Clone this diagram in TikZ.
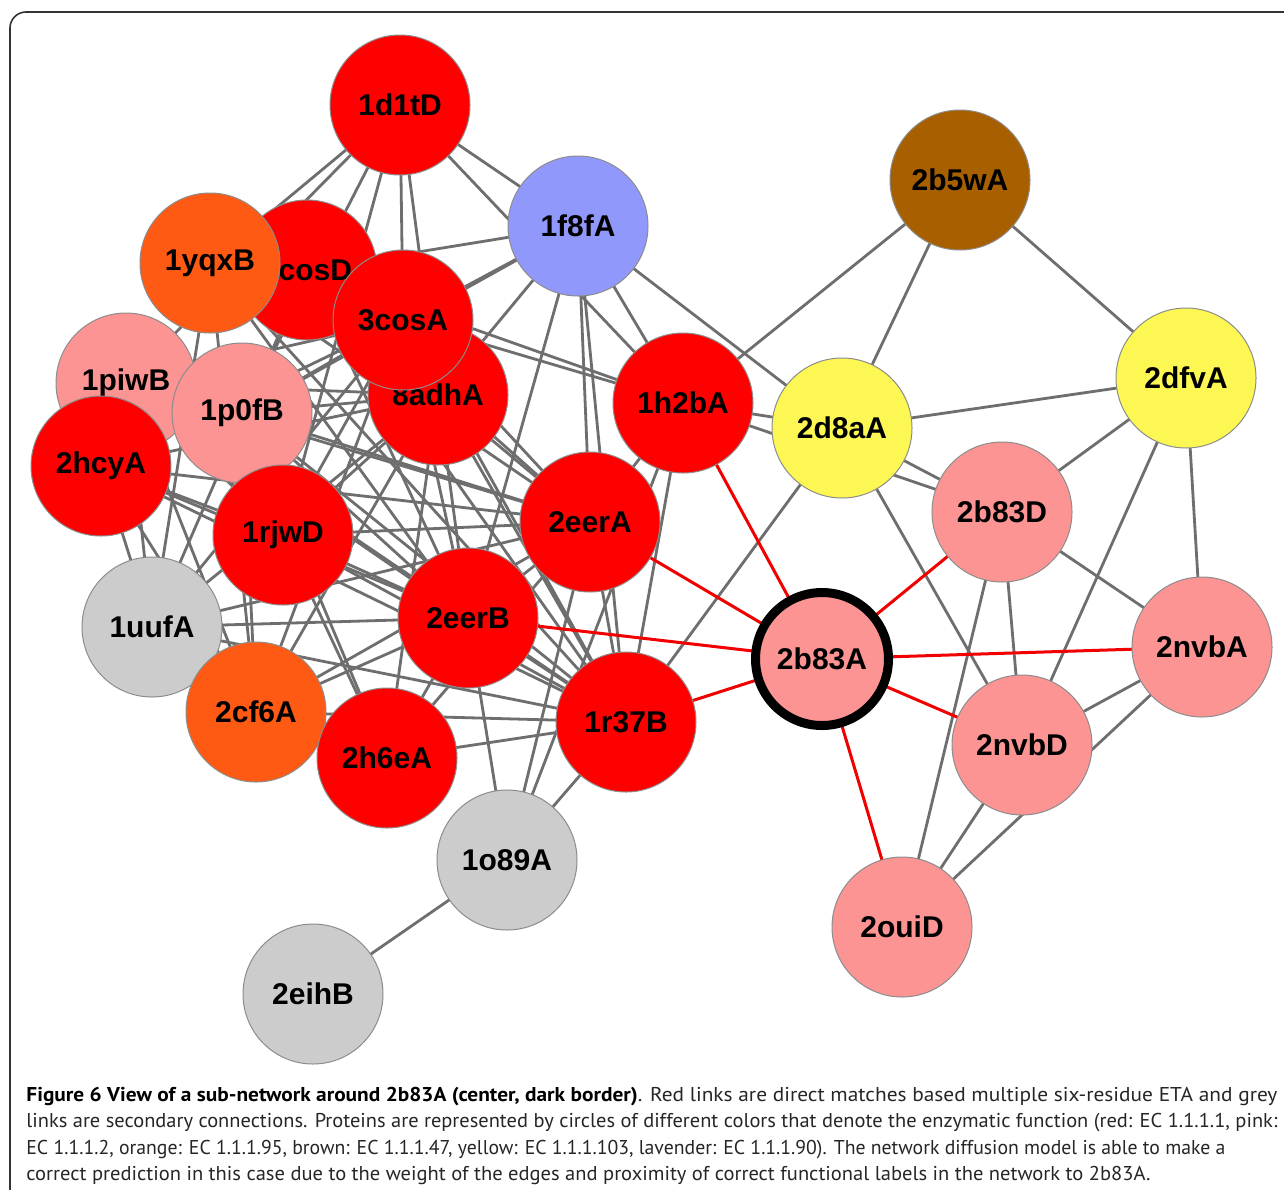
\documentclass[tikz,border=0pt]{standalone}
\usepackage{fontspec}
\usepackage{graphicx}
\newfontfamily\labfont{Liberation Sans}
\newfontfamily\capfont{PT Sans}
\definecolor{pRed}{HTML}{FF0000}
\definecolor{pPink}{HTML}{FC9494}
\definecolor{pOrange}{HTML}{FF5A14}
\definecolor{pBrown}{HTML}{A85F00}
\definecolor{pYellow}{HTML}{FCF752}
\definecolor{pLav}{HTML}{9098FC}
\definecolor{pGrey}{HTML}{CCCCCC}
\definecolor{edgeGrey}{HTML}{6E6E6E}
\definecolor{linkRed}{HTML}{F20000}
\pgfdeclarelayer{paper}
\pgfdeclarelayer{bg}
\pgfsetlayers{paper,bg,main}
\begin{document}
\begin{tikzpicture}[x=0.5pt,y=-0.5pt,
  prot/.style={circle, draw=black!45, line width=0.5pt, minimum size=70pt, inner sep=0pt,
    font=\labfont\bfseries\fontsize{15}{15}\selectfont, text=black},
  red/.style={prot, fill=pRed},
  pink/.style={prot, fill=pPink},
  orng/.style={prot, fill=pOrange},
  brwn/.style={prot, fill=pBrown},
  yell/.style={prot, fill=pYellow},
  lav/.style={prot, fill=pLav},
  gry/.style={prot, fill=pGrey},
  focus/.style={prot, fill=pPink, draw=black, line width=4.5pt, minimum size=66.5pt},
  ge/.style={draw=edgeGrey, line width=1.4pt},
  re/.style={draw=linkRed, line width=1.5pt},
  capline/.style={anchor=base west, inner sep=0pt, font=\capfont\fontsize{10}{12}\selectfont, text=black!85}]
\useasboundingbox (0,0) rectangle (1284,1189);
\clip (0,0) rectangle (1284,1189);
\begin{pgfonlayer}{paper}
\fill[white] (0,0) rectangle (1284,1189);
\end{pgfonlayer}
% frame
\draw[black!80, line width=0.8pt, rounded corners=8pt] (10,1300) -- (10,12) -- (1400,12);

% nodes (drawing order matters for overlaps)
\node[red]  (T)  at (400,105) {1d1tD};
\node[lav]  (L)  at (578,226) {1f8fA};
\node[brwn] (BW) at (960,180) {2b5wA};
\node[pink] (W)  at (126,383) {1piwB};
\node[pink] (P)  at (242,413) {1p0fB};
\node[red]  (D)  at (307,270) {3cosD};
\node[orng] (A)  at (210,263) {1yqxB};
\node[red]  (H)  at (438,395) {8adhA};
\node[red]  (C)  at (403,320) {3cosA};
\node[red]  (Y)  at (101,466) {2hcyA};
\node[red]  (J)  at (283,535) {1rjwD};
\node[gry]  (U)  at (152,627) {1uufA};
\node[orng] (F)  at (256,712) {2cf6A};
\node[red]  (E6) at (387,758) {2h6eA};
\node[red]  (EB) at (468,618) {2eerB};
\node[red]  (EA) at (590,522) {2eerA};
\node[red]  (R)  at (626,722) {1r37B};
\node[gry]  (O)  at (507,860) {1o89A};
\node[gry]  (EH) at (313,994) {2eihB};
\node[red]  (B)  at (683,403) {1h2bA};
\node[yell] (DA) at (842,428) {2d8aA};
\node[yell] (DF) at (1186,378) {2dfvA};
\node[pink] (BD) at (1002,512) {2b83D};
\node[pink] (NA) at (1202,647) {2nvbA};
\node[pink] (ND) at (1022,745) {2nvbD};
\node[pink] (OD) at (902,927) {2ouiD};
\node[focus] (X) at (822,659) {2b83A};

% edges
\begin{pgfonlayer}{bg}
\foreach \a/\b in {BW/B, BW/DA, BW/DF, L/DA, L/B, DA/DF, B/DA, DA/BD, B/BD, DF/BD, DF/ND, DF/NA,
  BD/NA, BD/ND, BD/OD, DA/ND, DA/R, NA/ND, NA/OD, ND/OD, B/R, B/EA,
  T/A, T/W, T/P, T/J, T/C, T/H, T/L, T/B,
  L/D, L/C, L/H, L/EB, L/EA, L/R, L/P, C/B, D/B,
  A/H, A/EA, A/EB, A/R,
  D/H, D/EA, D/EB, D/R,
  W/H, W/EA, W/EB, W/R, W/C,
  P/H, P/EA, P/EB, P/R, P/C,
  Y/H, Y/EA, Y/EB, Y/R, Y/C,
  J/H, J/EA, J/EB, J/R, J/C,
  U/H, U/EA, U/EB, U/R, U/C,
  F/H, F/EA, F/EB, F/R, F/C,
  U/W, U/Y, U/A, U/D, F/Y, F/W, F/P, F/A, Y/J, W/J,
  E6/EB, E6/R, E6/J, E6/P, E6/H, E6/EA, E6/U,
  EB/EA, EB/R, EA/R, H/EA, H/EB, H/R, C/EA, C/EB, C/R,
  O/EB, O/EA, O/R, O/B, O/EH}
  \draw[ge] (\a.center) -- (\b.center);
\foreach \b in {B, BD, EA, EB, R, NA, ND, OD}
  \draw[re] (X.center) -- (\b.center);
\end{pgfonlayer}

% caption
\node[capline] (c1) at (26,1101) {\resizebox{625.5pt}{\height}{\textbf{\color{black}Figure 6 View of a sub-network around 2b83A (center, dark border)}. Red links are direct matches based multiple six-residue ETA and grey}};
\node[capline] (c2) at (26,1127) {\resizebox{625.5pt}{\height}{links are secondary connections. Proteins are represented by circles of different colors that denote the enzymatic function (red: EC 1.1.1.1, pink:}};
\node[capline] (c3) at (26,1154) {\resizebox{599.5pt}{\height}{EC 1.1.1.2, orange: EC 1.1.1.95, brown: EC 1.1.1.47, yellow: EC 1.1.1.103, lavender: EC 1.1.1.90). The network diffusion model is able to make a}};
\node[capline] (c4) at (26,1180) {\resizebox{562pt}{\height}{correct prediction in this case due to the weight of the edges and proximity of correct functional labels in the network to 2b83A.}};
\end{tikzpicture}
\end{document}
